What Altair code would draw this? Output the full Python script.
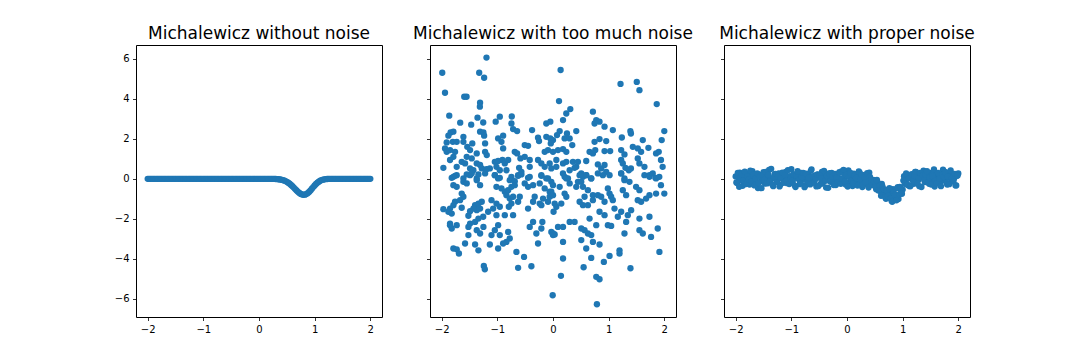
import altair as alt
import pandas as pd

TITLES = ["Michalewicz without noise", "Michalewicz with too much noise", "Michalewicz with proper noise"]
X_TICKS = [-2, -1, 0, 1, 2]
Y_TICKS = [-6, -4, -2, 0, 2, 4, 6]

X_GRID = [
    -2.0, -1.975, -1.95, -1.925, -1.9, -1.875, -1.85, -1.825, -1.8, -1.775,
    -1.75, -1.725, -1.7, -1.675, -1.65, -1.625, -1.6, -1.575, -1.55, -1.525,
    -1.5, -1.475, -1.45, -1.425, -1.4, -1.375, -1.35, -1.325, -1.3, -1.275,
    -1.25, -1.225, -1.2, -1.175, -1.15, -1.125, -1.1, -1.075, -1.05, -1.025,
    -1.0, -0.975, -0.95, -0.925, -0.9, -0.875, -0.85, -0.825, -0.8, -0.775,
    -0.75, -0.725, -0.7, -0.675, -0.65, -0.625, -0.6, -0.575, -0.55, -0.525,
    -0.5, -0.475, -0.45, -0.425, -0.4, -0.375, -0.35, -0.325, -0.3, -0.275,
    -0.25, -0.225, -0.2, -0.175, -0.15, -0.125, -0.1, -0.075, -0.05, -0.025,
    0.0, 0.025, 0.05, 0.075, 0.1, 0.125, 0.15, 0.175, 0.2, 0.225,
    0.25, 0.275, 0.3, 0.325, 0.35, 0.375, 0.4, 0.425, 0.45, 0.475,
    0.5, 0.525, 0.55, 0.575, 0.6, 0.625, 0.65, 0.675, 0.7, 0.725,
    0.75, 0.775, 0.8, 0.825, 0.85, 0.875, 0.9, 0.925, 0.95, 0.975,
    1.0, 1.025, 1.05, 1.075, 1.1, 1.125, 1.15, 1.175, 1.2, 1.225,
    1.25, 1.275, 1.3, 1.325, 1.35, 1.375, 1.4, 1.425, 1.45, 1.475,
    1.5, 1.525, 1.55, 1.575, 1.6, 1.625, 1.65, 1.675, 1.7, 1.725,
    1.75, 1.775, 1.8, 1.825, 1.85, 1.875, 1.9, 1.925, 1.95, 1.975, 2.0,
]

X_GRID_HALF = [
    -1.9875, -1.9625, -1.9375, -1.9125, -1.8875, -1.8625, -1.8375, -1.8125, -1.7875, -1.7625,
    -1.7375, -1.7125, -1.6875, -1.6625, -1.6375, -1.6125, -1.5875, -1.5625, -1.5375, -1.5125,
    -1.4875, -1.4625, -1.4375, -1.4125, -1.3875, -1.3625, -1.3375, -1.3125, -1.2875, -1.2625,
    -1.2375, -1.2125, -1.1875, -1.1625, -1.1375, -1.1125, -1.0875, -1.0625, -1.0375, -1.0125,
    -0.9875, -0.9625, -0.9375, -0.9125, -0.8875, -0.8625, -0.8375, -0.8125, -0.7875, -0.7625,
    -0.7375, -0.7125, -0.6875, -0.6625, -0.6375, -0.6125, -0.5875, -0.5625, -0.5375, -0.5125,
    -0.4875, -0.4625, -0.4375, -0.4125, -0.3875, -0.3625, -0.3375, -0.3125, -0.2875, -0.2625,
    -0.2375, -0.2125, -0.1875, -0.1625, -0.1375, -0.1125, -0.0875, -0.0625, -0.0375, -0.0125,
    0.0125, 0.0375, 0.0625, 0.0875, 0.1125, 0.1375, 0.1625, 0.1875, 0.2125, 0.2375,
    0.2625, 0.2875, 0.3125, 0.3375, 0.3625, 0.3875, 0.4125, 0.4375, 0.4625, 0.4875,
    0.5125, 0.5375, 0.5625, 0.5875, 0.6125, 0.6375, 0.6625, 0.6875, 0.7125, 0.7375,
    0.7625, 0.7875, 0.8125, 0.8375, 0.8625, 0.8875, 0.9125, 0.9375, 0.9625, 0.9875,
    1.0125, 1.0375, 1.0625, 1.0875, 1.1125, 1.1375, 1.1625, 1.1875, 1.2125, 1.2375,
    1.2625, 1.2875, 1.3125, 1.3375, 1.3625, 1.3875, 1.4125, 1.4375, 1.4625, 1.4875,
    1.5125, 1.5375, 1.5625, 1.5875, 1.6125, 1.6375, 1.6625, 1.6875, 1.7125, 1.7375,
    1.7625, 1.7875, 1.8125, 1.8375, 1.8625, 1.8875, 1.9125, 1.9375, 1.9625, 1.9875,
]

Y_CLEAN = [
    0.0, 0.0, 0.0, 0.0, 0.0, 0.0, 0.0, 0.0, 0.0, 0.0,
    0.0, 0.0, 0.0, 0.0, 0.0, 0.0, 0.0, 0.0, 0.0, 0.0,
    0.0, 0.0, 0.0, 0.0, 0.0, 0.0, 0.0, 0.0, 0.0, 0.0,
    0.0, 0.0, 0.0, 0.0, 0.0, 0.0, 0.0, 0.0, 0.0, 0.0,
    0.0, 0.0, 0.0, 0.0, 0.0, 0.0, 0.0, 0.0, 0.0, 0.0,
    0.0, 0.0, 0.0, 0.0, 0.0, 0.0, 0.0, 0.0, 0.0, 0.0,
    0.0, 0.0, 0.0, 0.0, 0.0, 0.0, 0.0, 0.0, 0.0, 0.0,
    0.0, 0.0, 0.0, 0.0, 0.0, 0.0, 0.0, 0.0, 0.0, 0.0,
    0.0, 0.0, 0.0, 0.0, 0.0, 0.0, 0.0, 0.0, -0.002, -0.003,
    -0.004, -0.007, -0.010, -0.015, -0.023, -0.032, -0.046, -0.063, -0.085, -0.114,
    -0.150, -0.195, -0.245, -0.305, -0.371, -0.441, -0.514, -0.585, -0.654, -0.712,
    -0.759, -0.789, -0.800, -0.794, -0.765, -0.719, -0.656, -0.582, -0.499, -0.415,
    -0.336, -0.260, -0.197, -0.142, -0.098, -0.065, -0.042, -0.025, -0.014, -0.008,
    -0.004, -0.002, -0.001, 0.0, 0.0, 0.0, 0.0, 0.0, 0.0, 0.0,
    0.0, 0.0, 0.0, 0.0, 0.0, 0.0, 0.0, 0.0, 0.0, 0.0,
    0.0, 0.0, 0.0, 0.0, 0.0, 0.0, 0.0, 0.0, 0.0, 0.0, 0.0,
]

Y_PROPER = [
    0.12, -0.21, 0.05, 0.31, -0.08, -0.35, 0.18, 0.02, -0.14, 0.26,
    -0.29, 0.09, 0.38, -0.03, -0.18, 0.14, -0.46, 0.21, 0.07, -0.11,
    0.33, -0.24, -0.06, 0.16, 0.44, -0.19, 0.01, -0.37, 0.23, 0.10,
    -0.13, 0.27, -0.30, 0.06, 0.19, -0.02, 0.35, -0.22, -0.09, 0.13,
    0.48, -0.16, 0.04, -0.41, 0.20, 0.11, -0.27, 0.29, -0.05, 0.15,
    -0.33, 0.08, 0.24, -0.12, 0.40, -0.20, 0.03, 0.17, -0.38, 0.22,
    0.06, -0.25, 0.34, -0.07, 0.12, -0.44, 0.25, 0.09, -0.15, 0.30,
    -0.02, 0.18, -0.31, 0.14, 0.05, -0.19, 0.37, -0.10, 0.21, -0.28,
    0.11, 0.42, -0.17, 0.00, -0.36, 0.26, 0.07, -0.23, 0.16, 0.32,
    -0.12, -0.41, 0.18, 0.07, -0.28, 0.10, 0.31, -0.10, -0.27, -0.05,
    -0.32, -0.52, -0.18, -0.40, -0.62, -0.25, -0.78, -0.55, -1.00, -0.55,
    -0.70, -0.95, -1.10, -0.52, -0.85, -1.05, -0.48, -1.01, -0.40, -0.62,
    -0.54, 0.13, -0.11, -0.25, 0.17, -0.37, 0.08, 0.02, -0.25, 0.34,
    0.19, -0.08, -0.37, 0.23, 0.06, 0.41, -0.16, -0.02, 0.28, -0.25,
    0.10, 0.31, -0.13, -0.39, 0.18, 0.01, 0.25, -0.20, 0.13, 0.46,
    -0.07, 0.16, -0.29, 0.08, 0.34, -0.11, 0.21, 0.02, -0.33, 0.15, 0.27,
]

Y_PROPER_HALF = [
    -0.18, 0.29, -0.40, 0.07, 0.22, -0.09, 0.36, -0.26, 0.13, -0.03,
    0.41, -0.14, 0.19, -0.33, 0.02, 0.27, -0.21, 0.11, -0.47, 0.16,
    -0.05, 0.34, -0.23, 0.20, -0.12, 0.50, -0.30, 0.08, 0.25, -0.17,
    0.13, -0.38, 0.04, 0.31, -0.20, 0.17, -0.08, 0.43, -0.26, 0.01,
    -0.11, 0.23, -0.34, 0.15, 0.38, -0.04, -0.22, 0.09, 0.30, -0.42,
    0.26, -0.15, 0.05, -0.28, 0.47, 0.12, -0.19, -0.01, 0.21, -0.36,
    0.18, 0.03, -0.24, 0.39, -0.10, 0.14, -0.45, 0.28, -0.06, 0.10,
    -0.31, 0.24, 0.07, -0.17, 0.33, -0.25, 0.00, 0.45, -0.13, 0.19,
    -0.39, 0.12, 0.29, -0.08, -0.23, 0.17, 0.04, -0.34, 0.37, -0.01,
    0.21, -0.29, 0.08, -0.18, 0.28, -0.44, 0.09, -0.05, -0.31, -0.12,
    -0.40, -0.05, -0.58, -0.35, -0.85, -0.38, -0.52, -0.92, -0.58, -0.86,
    -0.47, -0.97, -1.15, -0.70, -0.80, -1.08, -0.42, -0.79, -0.45, -0.75,
    -0.09, -0.25, 0.27, -0.31, 0.02, -0.37, 0.23, -0.12, 0.14, 0.35,
    -0.24, 0.05, 0.30, -0.41, 0.18, -0.06, 0.23, 0.38, -0.16, 0.07,
    -0.29, 0.13, 0.47, -0.11, -0.22, 0.29, 0.00, -0.37, 0.20, 0.09,
    0.34, -0.19, 0.11, -0.27, 0.42, 0.04, -0.14, 0.25, -0.33, 0.16,
]

X_NOISY = [
    -1.195, -1.99, -1.326, -1.237, -1.94, -1.595, -1.553, -1.31, -1.314, -1.864,
    -1.356, -1.667, -1.47, -1.254, -1.03, -0.956, -0.741, -0.747, -0.717, -0.645,
    -0.376, -0.12, -0.048, -1.84, -1.79, -1.88, -1.61, -1.61, -1.31, -1.25,
    -1.237, -1.22, -0.986, -0.896, -0.926, -0.896, -0.687, -0.645, -0.508, -0.448,
    -0.269, -0.251, -0.12, -0.048, -0.149, -0.09, -1.91, -1.80, -1.73, -1.94,
    -1.91, -1.85, -1.79, -1.85, -1.76, -1.97, -1.73, -1.54, -1.49, -1.45,
    -1.55, -1.46, -1.37, -1.64, -1.58, -1.49, -1.43, -1.37, -1.31, -1.28,
    -1.22, -1.19, -1.045, -0.986, -1.135, -1.195, -0.908, -0.866, -0.806, -1.016,
    -0.956, -0.836, -0.585, -0.508, -0.418, -0.609, -0.568, -0.418, -0.269, -0.209,
    -0.149, -0.06, -0.03, -1.79, -1.73, -1.61, -1.49, -1.37, -1.045, -0.956,
    -0.747, -0.627, -0.448, -0.209, -0.09,
    0.137, 1.213, 1.505, 1.553, 1.864, 0.108, 0.717, 0.311, 0.239, 0.18,
    0.777, 0.836, 0.747, 0.926, 1.075, 0.418, 1.39, 1.40, 2.0, 0.12,
    0.072, 0.0, -0.04, 0.251, 0.209, 0.299, 0.346, 0.18, 0.239, 0.09,
    0.0, 0.747, 0.836, 0.956, 1.237, 1.613, 1.953, 1.434, 1.523, 1.583,
    1.714, 0.657, 0.717, 0.759, 0.926, 1.027, 1.225, 1.284, 1.852, 1.90,
    0.06, 0.18, 0.239, 0.358, 0.448, 0.418, 0.597, 0.806, 0.866, 0.926,
    1.225, 1.254, 1.302, 1.40, 1.523, 1.553, 1.643, 1.94, 1.97, 0.06,
    0.299, 0.388, 0.508, 0.597, 0.687, 0.956, 1.016, 1.225, 1.284, 1.362,
    1.733, 1.84, 1.91, 0.209, 0.269,
    -1.82, -1.76, -1.55, -1.46, -1.34, -1.22, -1.045, -0.986, -0.777, -0.687,
    -0.627, -0.568, -0.418, -0.209, -0.12, -0.03,
    -1.79, -1.73, -1.61, -1.55, -1.37, -1.31, -1.016, -0.926, -0.866, -0.806,
    -0.747, -0.687, -0.508, -0.448, -0.358, -0.239, -0.149, -0.06, 0.0,
    -1.64, -1.61, -1.67, -1.76, -1.79, -1.64, -1.85, -1.97, -1.88, -1.82,
    -1.40, -1.34, -1.28, -1.31, -1.37, -1.43, -1.49,
    -1.105, -1.016, -0.956, -1.075, -1.165,
    -0.836, -0.777, -0.717, -0.747, -0.627, -0.597, -0.794,
    -0.448, -0.358, -0.329, -0.239, -0.209, -0.179, -0.09, -0.03, 0.01,
    -0.866, -0.717, -1.016, -1.254, -1.34, -1.52,
    -1.85, -1.82, -1.73, -1.85, -1.52, -1.49, -1.52, -1.37, -1.31, -1.25,
    -1.40, -1.105, -1.045, -0.986, -0.956, -0.806, -0.777, -0.836, -0.896,
    -0.418, -0.358, -0.299, -0.191, -0.209, -0.03, 0.0, -0.269,
    -1.58, -1.40, -1.34, -1.135, -0.986, -1.79, -1.73, -1.69, -0.657, -0.520,
    -1.243, -1.225, -0.627, -0.388, -0.006,
    0.179, 0.239, 0.12, -0.03, -0.06, 0.0, 0.03, 0.06, 0.149, 0.239, 0.209,
    0.478, 0.538, 0.597, 0.448, 0.508, 0.687, 0.896, 0.806,
    0.299, 0.418, 0.538, 0.627, 0.717, 0.567, 0.478, 0.538, 0.627, 0.717,
    0.806, 0.866, 0.926, 0.986, 1.016, 1.045, 1.075,
    1.225, 1.284, 1.374, 1.254, 1.314, 1.493, 1.553, 1.643, 1.733, 1.792,
    1.852, 1.94, 2.0, 1.852, 1.733, 1.673, 1.583, 1.523,
    1.105, 1.165, 1.225, 1.344, 1.404, 1.314, 1.284, 1.553, 1.553, 1.613,
    1.762, 1.733, 1.882, 1.912,
    0.299, 0.388, 0.508, 0.567, 0.627, 0.687, 0.777, 0.986, 1.045, 0.926,
    0.836, 0.657, 0.09, 0.18, 0.0, 0.03,
    0.18, 0.508, 0.597, 0.717, 0.836, 1.195, 1.195, 0.18, 0.687, 1.016,
    0.914, 0.55, 1.392, 0.143, 0.777, 0.836, 0.789,
]

Y_NOISY = [
    6.07, 5.31, 5.31, 5.06, 4.31, 4.11, 4.11, 3.81, 3.61, 3.16,
    3.06, 2.81, 2.71, 2.82, 2.86, 3.11, 3.12, 2.77, 2.49, 2.39,
    2.44, 2.77, 2.86, 2.32, 2.36, 2.16, 2.10, 1.85, 2.36, 2.32,
    2.16, 1.77, 2.02, 2.16, 1.85, 1.52, 1.35, 1.27, 1.69, 1.65,
    2.06, 1.89, 2.10, 2.02, 1.35, 1.44, 1.82, 1.85, 1.85, 1.52,
    1.35, 1.44, 1.10, 0.94, 1.35, 0.55, 0.60, 1.60, 1.44, 1.77,
    1.10, 1.02, 1.27, 0.85, 0.77, 0.52, 0.43, 0.77, 0.69, 0.52,
    1.35, 1.19, 0.85, 0.89, 0.52, 0.48, 0.94, 0.77, 0.94, 0.60,
    0.43, 0.43, 1.02, 1.10, 0.94, 0.55, 0.35, 0.60, 0.94, 0.77,
    0.60, 0.77, 0.52, 0.10, 0.18, 0.02, 0.18, 0.02, 0.18, 0.05,
    0.10, 0.18, 0.05, 0.18, 0.02,
    5.45, 4.75, 4.85, 4.44, 3.74, 3.89, 3.36, 3.49, 3.27, 2.94,
    2.94, 2.86, 2.77, 2.61, 2.44, 2.39, 2.39, 2.27, 2.39, 2.39,
    2.19, 1.94, 1.77, 2.27, 2.02, 2.02, 1.69, 1.49, 1.35, 1.44,
    1.35, 1.85, 1.99, 1.89, 2.07, 1.94, 1.94, 1.60, 1.52, 1.35,
    1.55, 1.35, 1.27, 1.44, 1.39, 1.39, 1.44, 1.22, 1.27, 1.35,
    0.94, 0.77, 0.85, 0.85, 0.85, 0.60, 0.89, 0.72, 0.52, 0.69,
    0.94, 0.77, 0.55, 0.52, 1.02, 0.77, 0.60, 0.94, 0.60, 0.60,
    0.43, 0.55, 0.27, 0.18, 0.02, 0.35, 0.18, 0.27, 0.02, 0.43,
    0.18, 0.05, 0.10, 0.10, 0.02,
    0.05, 0.15, 0.22, 0.27, 0.22, 0.27, 0.18, 0.02, -0.07, -0.12,
    0.15, 0.22, 0.10, 0.15, 0.02, -0.15,
    -0.32, -0.40, -0.15, -0.23, -0.07, -0.32, -0.40, -0.48, -0.65, -0.57,
    -0.40, -0.32, -0.23, -0.40, -0.32, -0.23, -0.48, -0.65, -0.32,
    -0.74, -0.90, -1.07, -1.15, -1.32, -1.45, -1.49, -1.52, -1.65, -1.74,
    -1.32, -1.24, -1.15, -1.49, -1.57, -1.49, -1.62,
    -1.07, -1.24, -1.40, -1.49, -1.65,
    -0.82, -0.99, -0.90, -1.24, -1.15, -0.90, -1.40,
    -1.49, -1.15, -0.90, -1.24, -1.32, -0.99, -1.15, -0.82, -1.65,
    -1.82, -1.82, -1.82, -1.90, -1.99, -1.85,
    -2.32, -2.49, -2.32, -2.24, -2.41, -2.24, -2.82, -2.57, -2.74, -2.41,
    -2.16, -2.82, -2.57, -2.32, -2.82, -2.66, -2.99, -3.16, -3.24,
    -2.41, -2.16, -2.74, -2.16, -2.49, -2.66, -2.82, -3.24,
    -3.24, -3.29, -3.58, -3.29, -3.49, -3.49, -3.53, -3.74, -3.66, -3.91,
    -4.36, -4.53, -4.46, -4.38, -5.83,
    0.27, 0.02, -0.40, -0.65, -0.90, -0.82, -1.24, -1.40, -1.24, -0.90, -0.74,
    0.18, 0.10, 0.18, -0.15, -0.15, 0.02, 0.18, 0.27,
    -0.23, -0.40, -0.40, -0.57, -0.82, -0.90, -1.15, -1.32, -1.32, -1.07,
    -0.82, -0.90, -1.15, -0.48, -0.74, -0.90, -1.07,
    0.27, -0.07, -0.15, -0.57, -0.82, -0.40, -0.57, 0.18, 0.10, 0.27,
    0.02, -0.32, -0.74, -0.74, -0.82, -0.99, -1.15, -1.07,
    -1.49, -1.90, -1.65, -1.82, -1.57, -2.16, -2.74, -1.99, -2.57, -2.74,
    -2.91, -1.90, -2.49, -3.66,
    -2.16, -2.16, -2.49, -2.57, -2.74, -2.82, -2.32, -2.32, -2.36, -1.82,
    -1.65, -1.99, -2.41, -2.41, -2.74, -2.79,
    -3.16, -3.07, -3.49, -3.16, -3.29, -3.58, -3.74, -3.99, -3.96, -3.86,
    -4.16, -4.43, -4.48, -4.86, -4.91, -5.03, -6.28,
]

df_clean = pd.DataFrame({"x": X_GRID, "y": Y_CLEAN})
df_noisy = pd.DataFrame({"x": X_NOISY, "y": Y_NOISY})
df_proper = pd.concat([
    pd.DataFrame({"x": X_GRID, "y": Y_PROPER}),
    pd.DataFrame({"x": X_GRID_HALF, "y": Y_PROPER_HALF}),
], ignore_index=True)

FONT = "DejaVu Sans"
W, H = 246, 272


def panel(df, title, show_labels):
    x_axis = alt.Axis(values=X_TICKS, title=None, grid=False, domain=False,
                      tickSize=3.5, tickColor="black", tickWidth=0.8,
                      labelFont=FONT, labelFontSize=10, labelColor="black",
                      labelPadding=3.5, format="d")
    y_axis = alt.Axis(values=Y_TICKS, title=None, grid=False, domain=False,
                      tickSize=3.5, tickColor="black", tickWidth=0.8,
                      labels=show_labels,
                      labelFont=FONT, labelFontSize=10, labelColor="black",
                      labelPadding=3.5, format="d")
    points = alt.Chart(df).mark_circle(size=40, color="#1f77b4", opacity=1).encode(
        x=alt.X("x:Q", scale=alt.Scale(domain=[-2.21, 2.21], nice=False, zero=False), axis=x_axis),
        y=alt.Y("y:Q", scale=alt.Scale(domain=[-6.92, 6.70], nice=False, zero=False), axis=y_axis),
    )
    head = alt.Chart(pd.DataFrame({"t": [title]})).mark_text(
        font=FONT, fontSize=17, color="black", align="center", baseline="alphabetic"
    ).encode(text="t:N", x=alt.value(W / 2), y=alt.value(-6.5))
    return alt.layer(points, head).properties(width=W, height=H)


chart = alt.hconcat(
    panel(df_clean, TITLES[0], True),
    panel(df_noisy, TITLES[1], False),
    panel(df_proper, TITLES[2], False),
    spacing=48,
    bounds="flush",
).configure_view(
    stroke="black", strokeWidth=1
).properties(
    padding={"left": 105, "top": 16, "right": 5, "bottom": 5},
    background="white",
)

chart.save("out.html", embed_options={"renderer": "svg", "actions": False})
